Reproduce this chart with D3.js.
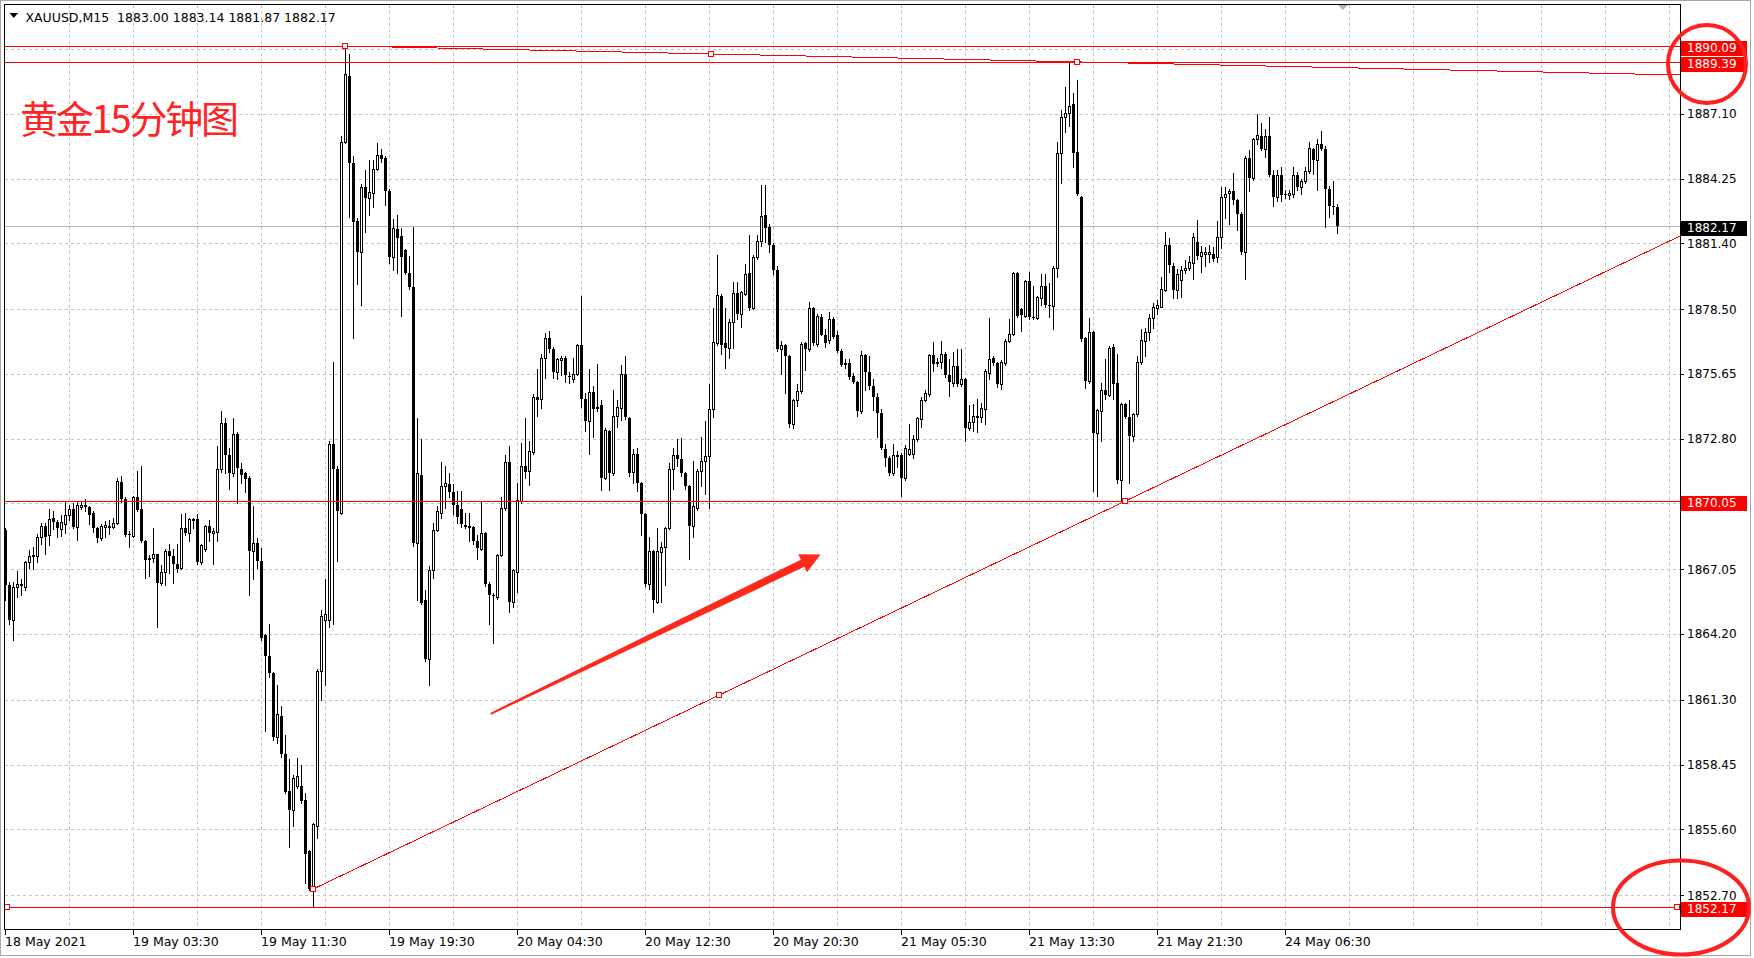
<!DOCTYPE html>
<html><head><meta charset="utf-8">
<script src="https://cdn.jsdelivr.net/npm/d3@7"></script>
<style>body{margin:0;background:#fff;} svg{display:block;} text{white-space:pre;}</style>
</head><body>
<svg id="chart" width="1754" height="958"></svg>
<script>
const symbolTitle = "XAUUSD,M15";
const lastQuote = ["1883.00", "1883.14", "1881.87", "1882.17"];
const chartTitle = "黄金15分钟图";

const opens = [
1868.78,1866.38,1864.84,1866.25,1866.42,1866.25,1867.37,1867.62,1867.62,1868.48,
1868.96,1868.56,1869.30,1869.15,1868.81,1869.06,1869.45,1869.70,1868.91,1869.80,
1869.90,1869.78,1869.53,1868.86,1868.41,1868.91,1868.91,1868.91,1869.11,1870.89,
1870.15,1868.61,1868.53,1870.22,1869.70,1868.29,1867.57,1867.57,1867.72,1866.45,
1866.92,1867.87,1867.62,1867.27,1867.12,1868.86,1868.66,1869.23,1869.28,1867.37,
1867.96,1868.96,1868.66,1868.71,1871.47,1873.50,1872.08,1871.29,1873.00,1871.47,
1871.27,1871.09,1867.87,1868.19,1867.42,1864.14,1863.22,1862.48,1859.67,1860.59,
1858.93,1857.31,1856.44,1857.51,1857.51,1856.89,1854.63,1852.97,1855.77,1862.58,
1864.81,1864.81,1872.58,1871.47,1869.53,1885.87,1888.77,1884.95,1882.39,1881.02,
1883.88,1883.38,1883.63,1884.67,1885.30,1885.17,1883.71,1880.78,1882.02,1881.72,
1881.10,1880.08,1879.46,1868.19,1871.22,1865.68,1863.10,1867.02,1868.78,1869.55,
1870.72,1870.79,1870.47,1869.90,1869.70,1868.98,1868.91,1868.91,1868.29,1867.94,
1868.66,1866.42,1865.93,1865.83,1867.67,1869.73,1871.76,1865.63,1866.95,1870.05,
1871.59,1871.39,1872.21,1874.62,1874.57,1876.36,1877.23,1876.75,1875.74,1876.26,
1876.36,1875.56,1875.41,1875.66,1876.93,1874.57,1873.57,1874.87,1874.20,1874.27,
1871.09,1873.15,1871.27,1873.82,1874.15,1875.64,1873.70,1871.34,1872.14,1870.84,
1869.48,1866.42,1867.87,1865.63,1867.82,1868.04,1868.86,1871.47,1872.08,1871.91,
1871.27,1870.72,1868.96,1869.73,1871.39,1871.84,1872.04,1874.12,1877.00,1879.09,
1877.00,1876.80,1877.92,1879.21,1878.29,1879.16,1880.08,1878.54,1880.78,1881.52,
1882.64,1882.14,1881.32,1880.23,1876.75,1876.93,1876.43,1873.45,1874.49,1874.92,
1877.00,1876.75,1878.54,1876.98,1878.17,1877.37,1877.13,1878.05,1877.35,1876.68,
1876.13,1876.13,1875.56,1875.31,1874.00,1876.48,1875.74,1875.11,1874.64,1873.95,
1872.33,1871.96,1871.27,1872.04,1872.08,1871.09,1872.14,1872.14,1872.78,1873.65,
1874.49,1874.77,1876.48,1876.18,1876.18,1876.51,1875.61,1875.26,1875.98,1875.21,
1875.41,1873.25,1873.53,1873.77,1873.77,1874.12,1875.69,1876.36,1876.13,1875.21,
1876.13,1877.10,1877.42,1880.11,1878.49,1878.22,1879.73,1878.17,1878.12,1878.99,
1879.53,1878.67,1878.64,1880.33,1885.37,1886.98,1887.16,1887.53,1885.42,1883.43,
1877.23,1875.36,1877.50,1873.03,1874.02,1874.94,1874.74,1876.85,1875.26,1870.97,
1874.32,1873.77,1872.90,1873.87,1876.18,1877.10,1877.50,1878.12,1878.54,1878.62,
1879.36,1881.32,1880.40,1879.34,1879.78,1880.21,1880.33,1880.53,1881.45,1880.83,
1880.93,1880.95,1880.95,1880.78,1881.69,1883.43,1883.63,1883.71,1883.31,1882.69,
1881.02,1885.17,1884.30,1885.99,1886.11,1885.57,1886.11,1884.43,1883.43,1884.43,
1883.56,1883.51,1883.56,1884.43,1883.88,1884.13,1884.57,1885.54,1885.07,1885.79,
1885.57,1883.81,1883.06,1883.00];

const highs = [
1868.86,1866.50,1866.50,1866.99,1866.62,1867.42,1867.91,1868.04,1868.61,1869.11,
1869.11,1869.70,1869.60,1869.23,1869.45,1870.05,1869.90,1869.95,1870.02,1870.00,
1870.15,1869.85,1869.60,1868.91,1869.06,1869.16,1869.21,1869.30,1871.09,1871.14,
1870.25,1868.73,1870.30,1871.39,1871.59,1868.36,1867.67,1868.86,1867.74,1867.22,
1867.96,1868.16,1867.96,1868.16,1869.48,1869.53,1869.33,1869.30,1869.48,1868.16,
1869.01,1869.23,1868.86,1872.46,1874.02,1873.70,1872.41,1873.70,1873.08,1871.71,
1871.34,1871.14,1869.85,1868.44,1867.99,1864.19,1864.64,1862.53,1861.96,1861.04,
1859.77,1858.68,1857.98,1858.75,1858.43,1857.19,1854.70,1855.87,1862.65,1865.26,
1866.62,1872.71,1876.18,1871.59,1886.11,1890.09,1889.72,1885.25,1882.51,1884.00,
1884.62,1885.05,1885.05,1885.84,1885.54,1885.25,1883.81,1882.46,1882.66,1882.09,
1881.17,1880.83,1882.14,1873.70,1872.78,1866.13,1867.19,1869.11,1869.85,1871.79,
1871.59,1871.27,1870.79,1870.52,1870.52,1869.53,1869.55,1868.96,1868.56,1870.05,
1868.71,1866.50,1866.00,1867.72,1870.22,1872.08,1872.46,1867.05,1870.84,1872.63,
1873.70,1872.71,1874.77,1875.86,1876.55,1877.47,1877.55,1876.85,1876.36,1876.43,
1876.43,1875.74,1876.36,1876.98,1879.09,1874.82,1875.86,1875.11,1876.11,1874.49,
1873.25,1873.20,1874.94,1874.49,1876.06,1876.43,1873.75,1872.33,1872.38,1870.89,
1869.53,1868.49,1867.91,1868.86,1868.24,1868.91,1871.71,1872.38,1872.78,1872.83,
1871.34,1870.77,1871.84,1871.47,1872.88,1873.57,1875.19,1878.54,1880.90,1879.16,
1878.54,1878.09,1879.71,1879.71,1879.29,1880.48,1881.77,1880.90,1881.77,1883.95,
1883.95,1882.27,1881.40,1880.40,1877.10,1876.98,1876.48,1874.57,1875.19,1877.05,
1877.05,1878.84,1878.59,1878.29,1878.29,1877.62,1878.37,1878.17,1877.55,1876.75,
1876.31,1876.31,1875.69,1875.36,1876.68,1876.55,1876.43,1875.41,1874.82,1874.12,
1872.58,1872.04,1872.58,1872.26,1872.16,1872.51,1873.45,1872.95,1873.75,1874.62,
1874.94,1876.55,1877.05,1876.36,1877.10,1876.60,1876.31,1876.60,1876.75,1876.73,
1875.49,1874.27,1874.32,1874.57,1874.37,1875.88,1878.12,1876.43,1876.18,1876.26,
1877.18,1878.05,1880.16,1880.16,1878.54,1879.78,1880.16,1879.53,1879.09,1880.03,
1880.03,1879.66,1880.40,1885.87,1887.28,1888.30,1889.39,1888.03,1888.60,1883.48,
1877.30,1878.12,1877.55,1874.12,1875.26,1876.31,1876.88,1876.98,1876.51,1874.37,
1874.37,1874.49,1873.95,1876.43,1877.62,1877.67,1878.29,1878.79,1878.91,1879.91,
1881.89,1881.65,1880.53,1880.28,1880.40,1880.65,1880.85,1881.84,1882.44,1881.27,
1881.22,1881.32,1881.22,1882.39,1883.88,1883.88,1883.81,1884.50,1883.36,1882.76,
1885.25,1885.49,1886.04,1887.11,1886.69,1886.44,1886.98,1884.62,1884.62,1884.75,
1883.76,1883.76,1884.75,1884.55,1884.25,1884.75,1885.87,1885.62,1885.99,1886.36,
1885.67,1883.93,1884.13,1883.14];

const lows = [
1865.68,1864.64,1863.94,1865.83,1865.93,1866.13,1867.12,1867.05,1867.37,1868.16,
1867.72,1868.11,1868.81,1868.48,1868.53,1868.66,1869.23,1868.86,1868.36,1869.70,
1869.60,1869.06,1868.71,1868.24,1868.36,1868.46,1868.61,1868.86,1869.06,1870.00,
1868.51,1868.04,1868.46,1869.60,1868.24,1866.67,1866.75,1867.37,1864.51,1866.38,
1866.38,1866.87,1866.45,1866.92,1867.07,1868.56,1868.29,1868.86,1867.27,1867.29,
1867.87,1868.31,1867.29,1868.29,1871.34,1871.29,1870.60,1871.14,1869.97,1870.84,
1870.47,1865.93,1866.62,1867.12,1863.94,1859.92,1862.33,1859.55,1859.42,1858.80,
1857.19,1854.83,1855.75,1857.44,1856.76,1853.22,1852.92,1852.17,1855.20,1861.28,
1861.96,1864.51,1864.64,1867.42,1869.48,1885.82,1882.56,1877.22,1879.61,1878.67,
1881.89,1882.64,1883.01,1884.62,1885.00,1883.11,1880.53,1880.23,1880.08,1878.22,
1880.03,1879.41,1868.06,1865.68,1865.51,1863.02,1861.96,1866.67,1868.73,1869.30,
1869.73,1870.22,1869.48,1869.11,1868.91,1868.86,1868.29,1868.16,1867.49,1867.91,
1866.33,1864.64,1863.82,1865.75,1867.62,1869.65,1865.18,1865.38,1866.05,1869.97,
1871.09,1870.77,1872.14,1873.82,1874.15,1875.49,1876.63,1875.49,1875.44,1875.61,
1875.31,1875.26,1875.31,1875.61,1874.20,1873.13,1872.14,1872.88,1874.02,1870.55,
1871.04,1870.55,1871.22,1873.33,1873.62,1873.65,1871.17,1870.84,1870.52,1868.56,
1866.33,1866.18,1865.18,1865.55,1865.63,1866.38,1868.81,1870.60,1871.59,1871.14,
1870.60,1867.49,1868.49,1869.65,1870.72,1870.35,1869.73,1873.75,1876.93,1876.51,
1875.93,1876.36,1876.80,1878.09,1877.72,1879.11,1878.47,1878.49,1880.73,1881.27,
1881.45,1881.02,1880.03,1876.68,1875.64,1874.82,1873.33,1873.28,1874.25,1874.82,
1875.81,1876.68,1876.93,1876.88,1877.35,1876.85,1877.00,1877.25,1876.63,1876.01,
1875.93,1875.44,1875.24,1873.82,1873.95,1874.94,1874.99,1874.07,1872.88,1872.33,
1871.59,1871.22,1871.22,1871.54,1870.30,1870.97,1872.08,1871.96,1872.71,1873.33,
1874.44,1874.69,1875.76,1876.01,1875.93,1875.51,1874.69,1875.11,1875.11,1875.14,
1872.71,1873.20,1873.13,1873.08,1873.53,1873.45,1875.44,1876.06,1875.07,1874.99,
1876.06,1877.05,1877.35,1878.17,1877.55,1878.17,1878.09,1878.05,1878.05,1878.67,
1878.59,1878.17,1877.62,1879.91,1884.05,1886.29,1886.56,1884.75,1883.51,1877.10,
1875.02,1875.26,1870.52,1870.30,1872.71,1874.57,1874.69,1874.57,1870.84,1870.05,
1873.70,1870.84,1872.71,1873.82,1876.11,1876.43,1877.13,1877.67,1878.29,1878.59,
1879.29,1880.16,1878.99,1878.99,1879.04,1880.08,1880.21,1879.83,1880.73,1880.16,
1880.40,1880.58,1880.63,1880.58,1881.20,1882.51,1882.27,1883.14,1881.97,1880.95,
1879.83,1883.71,1884.20,1885.79,1885.49,1885.20,1884.38,1883.06,1883.26,1883.26,
1883.41,1883.36,1883.46,1883.76,1883.58,1884.05,1884.50,1884.45,1883.76,1885.49,
1882.14,1882.56,1882.71,1881.87];

const closes = [
1866.38,1864.84,1866.25,1866.42,1866.33,1867.37,1867.62,1867.67,1868.46,1868.96,
1868.48,1869.28,1869.15,1868.86,1869.15,1869.45,1869.70,1868.91,1869.90,1869.90,
1869.80,1869.45,1868.86,1868.41,1868.96,1869.01,1868.96,1869.11,1870.94,1870.15,
1868.56,1868.56,1870.22,1869.65,1868.29,1867.47,1867.47,1867.72,1866.45,1866.92,
1867.87,1867.62,1867.27,1867.07,1868.86,1868.66,1869.28,1869.28,1867.37,1868.11,
1868.96,1868.66,1868.73,1871.47,1873.50,1872.08,1871.29,1873.00,1871.52,1871.22,
1871.04,1867.87,1868.19,1867.42,1864.02,1863.22,1862.48,1859.67,1860.66,1858.93,
1857.24,1856.44,1857.88,1857.93,1856.86,1854.53,1852.97,1855.82,1862.58,1865.01,
1865.08,1872.58,1871.47,1869.60,1885.87,1888.85,1884.92,1882.34,1881.02,1883.88,
1883.38,1883.68,1884.67,1885.30,1885.10,1883.71,1880.78,1882.07,1881.65,1880.78,
1880.08,1879.46,1868.19,1871.27,1865.58,1863.10,1867.02,1868.78,1869.60,1870.72,
1870.84,1870.47,1869.90,1869.35,1869.06,1868.91,1868.96,1868.29,1867.99,1868.66,
1866.42,1865.93,1865.88,1867.67,1869.73,1871.76,1865.63,1867.00,1870.10,1871.59,
1871.34,1872.26,1874.62,1874.49,1876.36,1877.23,1876.75,1875.74,1876.31,1876.36,
1875.61,1875.51,1875.66,1876.93,1874.57,1873.57,1874.87,1874.12,1874.12,1871.09,
1873.20,1871.27,1873.82,1874.20,1875.64,1873.75,1871.27,1872.14,1870.84,1869.48,
1866.42,1867.87,1865.68,1867.87,1868.04,1868.86,1871.47,1872.08,1871.91,1871.27,
1870.72,1868.96,1869.85,1871.39,1871.84,1872.04,1874.12,1877.05,1879.11,1876.93,
1876.80,1877.92,1879.21,1878.29,1879.24,1880.03,1878.54,1880.78,1881.52,1882.61,
1882.09,1881.32,1880.23,1876.73,1876.93,1876.43,1873.45,1874.49,1874.92,1876.98,
1876.73,1878.54,1877.00,1878.22,1877.37,1877.03,1878.05,1877.30,1876.68,1876.06,
1876.06,1875.51,1875.31,1874.00,1876.48,1875.74,1875.11,1874.64,1873.95,1872.38,
1871.96,1871.27,1872.08,1872.08,1871.09,1872.41,1872.33,1872.78,1873.70,1874.49,
1874.82,1876.48,1876.11,1876.11,1876.51,1875.61,1875.31,1875.98,1875.19,1875.41,
1873.25,1873.53,1873.82,1873.82,1874.17,1875.76,1876.31,1876.13,1875.21,1876.18,
1877.10,1877.42,1880.11,1878.22,1878.24,1879.73,1878.14,1878.12,1879.04,1879.53,
1878.67,1878.64,1880.33,1885.37,1886.98,1887.16,1887.43,1885.37,1883.58,1877.18,
1875.36,1877.50,1873.03,1874.07,1874.94,1874.74,1876.80,1875.19,1870.97,1874.32,
1873.77,1872.90,1873.87,1876.18,1877.13,1877.50,1878.12,1878.59,1878.67,1879.41,
1881.32,1880.45,1879.34,1880.03,1880.21,1880.33,1880.58,1881.69,1880.83,1881.02,
1881.02,1881.00,1880.73,1881.69,1883.43,1883.58,1883.71,1883.31,1882.69,1881.02,
1885.17,1884.30,1885.99,1886.19,1885.57,1886.11,1884.43,1883.43,1884.43,1883.51,
1883.51,1883.63,1884.43,1883.88,1884.13,1884.60,1885.59,1885.07,1885.79,1885.57,
1883.81,1883.06,1883.01,1882.17];

const timeLabels = ["18 May 2021","19 May 03:30","19 May 11:30","19 May 19:30","20 May 04:30","20 May 12:30","20 May 20:30","21 May 05:30","21 May 13:30","21 May 21:30","24 May 06:30"];
const timeLabelBars = [0,32,64,96,128,160,192,224,256,288,320];
const priceTicks = [1889.95,1887.10,1884.25,1881.40,1878.50,1875.65,1872.80,1869.95,1867.05,1864.20,1861.30,1858.45,1855.60,1852.70];
const redLevels = [1890.09,1889.39,1870.05,1852.17];
const currentPrice = 1882.17;
const resistanceLine = [{bar:85, price:1890.09},{bar:268, price:1889.39}];
const supportLine = [{bar:77, price:1852.97},{bar:280, price:1870.05}];
const arrowAnnotation = [{bar:121.4, price:1860.69},{bar:203.9, price:1867.70}];

// ---------- layout ----------
const PL = 4.5, PT = 4.5, PR = 1680, PB = 929.5;
const RED = "#ff0000";
const FONT = "'DejaVu Sans', Verdana, sans-serif";
const x = d3.scaleLinear().domain([0, 418.75]).range([5, 1680]);
const y = d3.scaleLinear().domain([1852.17, 1890.09]).range([907.3, 46]);
const svg = d3.select("#chart");
const n = Math.min(opens.length, highs.length, lows.length, closes.length);
const bars = d3.range(n).map(i => ({i, o: opens[i], h: highs[i], l: lows[i], c: closes[i]}));

svg.append("rect").attr("x",0.5).attr("y",0.5).attr("width",1750).attr("height",955)
  .attr("fill","#fff").attr("stroke","#a8a8a8");

svg.append("defs").append("clipPath").attr("id","plotclip")
  .append("rect").attr("x",5).attr("y",5).attr("width",1675).attr("height",924);
const g = svg.append("g").attr("clip-path","url(#plotclip)");
const px = v => Math.round(v) + 0.5;

// grid
g.append("g").selectAll("line").data(d3.range(16, 419, 16)).join("line")
  .attr("x1", d => px(x(d))).attr("x2", d => px(x(d))).attr("y1", PT).attr("y2", PB)
  .attr("stroke","#c4c4c4").attr("stroke-dasharray","3,3").attr("shape-rendering","crispEdges");
g.append("g").selectAll("line").data(priceTicks).join("line")
  .attr("x1", PL).attr("x2", PR).attr("y1", d => px(y(d))).attr("y2", d => px(y(d)))
  .attr("stroke","#c4c4c4").attr("stroke-dasharray","3,3").attr("shape-rendering","crispEdges");

// current price line
g.append("line").attr("x1",PL).attr("x2",PR).attr("y1",px(y(currentPrice))).attr("y2",px(y(currentPrice)))
  .attr("stroke","#b8b8b8").attr("shape-rendering","crispEdges");

// candles
const cg = g.append("g").attr("shape-rendering","crispEdges");
const cand = cg.selectAll("g").data(bars).join("g");
cand.append("line")
  .attr("x1", d => Math.round(x(d.i)) + 0.5).attr("x2", d => Math.round(x(d.i)) + 0.5)
  .attr("y1", d => Math.round(y(Math.max(d.h, d.o, d.c)))).attr("y2", d => Math.round(y(Math.min(d.l, d.o, d.c))) + 1)
  .attr("stroke","#000");
cand.each(function(d){
  const sel = d3.select(this);
  const cx = Math.round(x(d.i));
  const top = Math.round(y(Math.max(d.o, d.c)));
  const bot = Math.round(y(Math.min(d.o, d.c)));
  if (d.c > d.o && bot - top >= 2) {
    sel.append("rect").attr("x", cx - 0.5).attr("y", top + 0.5).attr("width", 2).attr("height", bot - top)
      .attr("fill","#fff").attr("stroke","#000");
  } else {
    sel.append("rect").attr("x", cx - 1).attr("y", top).attr("width", 3).attr("height", Math.max(bot - top, 1) + (d.c > d.o ? 1 : 0))
      .attr("fill","#000");
  }
});

// horizontal red levels
g.append("g").selectAll("line").data(redLevels).join("line")
  .attr("x1", PL).attr("x2", PR).attr("y1", d => px(y(d))).attr("y2", d => px(y(d)))
  .attr("stroke", RED).attr("shape-rendering","crispEdges");

// trend rays
function ray(pts){
  const [a, b] = pts;
  const slope = (b.price - a.price) / (b.bar - a.bar);
  const endBar = x.invert(PR);
  const endPrice = a.price + slope * (endBar - a.bar);
  g.append("line").attr("x1", x(a.bar)).attr("y1", y(a.price)).attr("x2", x(endBar)).attr("y2", y(endPrice))
    .attr("stroke", RED).attr("stroke-width", 1).attr("shape-rendering","crispEdges");
  const mid = {bar: (a.bar + b.bar) / 2, price: (a.price + b.price) / 2};
  [a, mid, b].forEach(p => {
    g.append("rect").attr("x", Math.round(x(p.bar)) - 2.5).attr("y", Math.round(y(p.price)) - 2.5)
      .attr("width", 5).attr("height", 5).attr("fill","#fff").attr("stroke", RED).attr("shape-rendering","crispEdges");
  });
}
ray(resistanceLine);
ray(supportLine);
// selection squares on the 1852.17 level
[x.invert(7), x.invert(1677)].forEach(b => {
  g.append("rect").attr("x", Math.round(x(b)) - 2.5).attr("y", Math.round(y(1852.17)) - 2.5)
    .attr("width",5).attr("height",5).attr("fill","#fff").attr("stroke",RED).attr("shape-rendering","crispEdges");
});

// arrow annotation
(function(){
  const S = [x(arrowAnnotation[0].bar), y(arrowAnnotation[0].price)];
  const E = [x(arrowAnnotation[1].bar), y(arrowAnnotation[1].price)];
  const dx = E[0] - S[0], dy = E[1] - S[1], len = Math.hypot(dx, dy);
  const u = [dx / len, dy / len], nn = [-u[1], u[0]];
  const headLen = 20, headW = 10, w0 = 1, w1 = 4;
  const B = [E[0] - u[0] * headLen, E[1] - u[1] * headLen];
  const P = (p, k) => [p[0] + nn[0] * k, p[1] + nn[1] * k];
  const pts = [P(S, w0), P(B, w1), P(B, headW), E, P(B, -headW), P(B, -w1), P(S, -w0)];
  g.append("polygon").attr("points", pts.map(p => p.join(",")).join(" ")).attr("fill", "#ff2a1c");
})();

// title
g.append("text").attr("x", 20).attr("y", 133).text(chartTitle)
  .attr("font-family","'Noto Sans CJK SC', sans-serif").attr("font-size", 38)
  .attr("textLength", 219).attr("lengthAdjust", "spacing").attr("fill","#ff2323");

// plot border
svg.append("rect").attr("x", PL).attr("y", PT).attr("width", PR - PL).attr("height", PB - PT)
  .attr("fill","none").attr("stroke","#000").attr("shape-rendering","crispEdges");

// chart shift marker
svg.append("polygon").attr("points", `${x(n - 1) + 1},5 ${x(n - 1) + 11},5 ${x(n - 1) + 6},10`).attr("fill","#b0b0b0");

// header
svg.append("polygon").attr("points","9.5,13 18,13 13.75,18").attr("fill","#000");
svg.append("text").attr("x", 25.5).attr("y", 22).attr("font-family", FONT).attr("font-size", 12.5).attr("fill","#000")
  .text(symbolTitle + "  " + lastQuote.join(" "));

// right axis
const ay = svg.append("g");
ay.selectAll("line").data(priceTicks).join("line")
  .attr("x1", PR).attr("x2", PR + 4).attr("y1", d => px(y(d))).attr("y2", d => px(y(d)))
  .attr("stroke","#000").attr("shape-rendering","crispEdges");
ay.selectAll("text").data(priceTicks).join("text")
  .attr("x", 1687).attr("y", d => y(d)).attr("dy","0.36em")
  .attr("font-family", FONT).attr("font-size", 12).attr("fill","#000")
  .text(d => d3.format(".2f")(d));

// price labels (boxes)
function priceBox(p, bg){
  const yy = Math.round(y(p));
  svg.append("rect").attr("x", 1681).attr("y", yy - 5.5).attr("width", 66).attr("height", 15)
    .attr("fill", bg).attr("shape-rendering","crispEdges");
  svg.append("text").attr("x", 1687).attr("y", yy + 2).attr("dy","0.36em")
    .attr("font-family", FONT).attr("font-size", 12).attr("fill","#fff").text(d3.format(".2f")(p));
}
redLevels.forEach(p => priceBox(p, RED));
priceBox(currentPrice, "#000");

// bottom axis
const ax = svg.append("g");
ax.selectAll("line").data(timeLabelBars).join("line")
  .attr("x1", d => px(x(d))).attr("x2", d => px(x(d))).attr("y1", PB).attr("y2", PB + 5)
  .attr("stroke","#000").attr("shape-rendering","crispEdges");
ax.selectAll("text").data(timeLabelBars).join("text")
  .attr("x", d => x(d)).attr("y", 945.5)
  .attr("font-family", FONT).attr("font-size", 12.5).attr("fill","#000")
  .text((d, k) => timeLabels[k]);

// red hand-drawn circles
svg.append("ellipse").attr("cx", 1707).attr("cy", 64).attr("rx", 39).attr("ry", 39)
  .attr("fill","none").attr("stroke","#ff2020").attr("stroke-width", 4);
svg.append("ellipse").attr("cx", 1681).attr("cy", 907.5).attr("rx", 68).attr("ry", 47)
  .attr("fill","none").attr("stroke","#ff2020").attr("stroke-width", 4);
</script>
</body></html>
